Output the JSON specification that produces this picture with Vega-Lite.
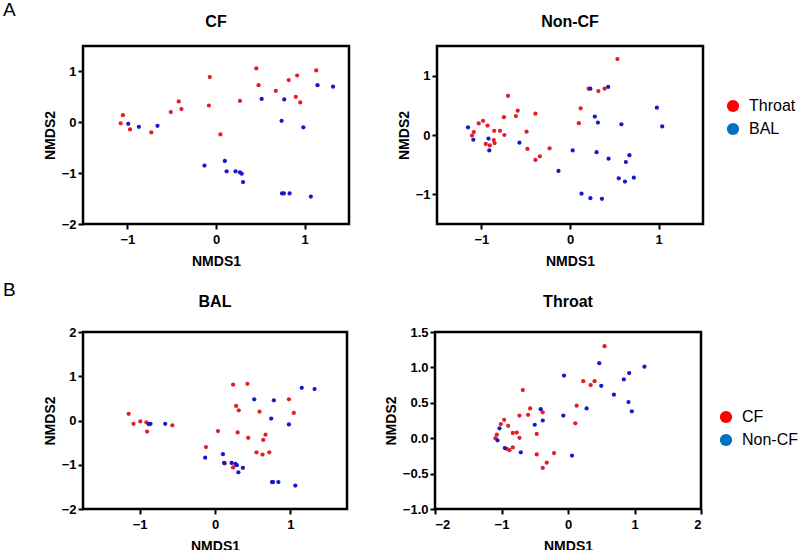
{
  "$schema": "https://vega.github.io/schema/vega-lite/v6.json",
  "background": "white",
  "padding": {"left": 2, "top": 0, "right": 0, "bottom": 0},
  "datasets": {
    "cf": [
      {"group": "Throat", "NMDS1": -1.075, "NMDS2": -0.02},
      {"group": "Throat", "NMDS1": -1.05, "NMDS2": 0.14},
      {"group": "Throat", "NMDS1": -0.97, "NMDS2": -0.14},
      {"group": "Throat", "NMDS1": -0.73, "NMDS2": -0.2},
      {"group": "Throat", "NMDS1": -0.51, "NMDS2": 0.2},
      {"group": "Throat", "NMDS1": -0.42, "NMDS2": 0.41},
      {"group": "Throat", "NMDS1": -0.39, "NMDS2": 0.26},
      {"group": "Throat", "NMDS1": -0.07, "NMDS2": 0.89},
      {"group": "Throat", "NMDS1": -0.08, "NMDS2": 0.33},
      {"group": "Throat", "NMDS1": 0.05, "NMDS2": -0.24},
      {"group": "Throat", "NMDS1": 0.27, "NMDS2": 0.42},
      {"group": "Throat", "NMDS1": 0.455, "NMDS2": 1.06},
      {"group": "Throat", "NMDS1": 0.48, "NMDS2": 0.73},
      {"group": "Throat", "NMDS1": 0.675, "NMDS2": 0.62},
      {"group": "Throat", "NMDS1": 0.82, "NMDS2": 0.83},
      {"group": "Throat", "NMDS1": 0.915, "NMDS2": 0.92},
      {"group": "Throat", "NMDS1": 0.9, "NMDS2": 0.5},
      {"group": "Throat", "NMDS1": 0.95, "NMDS2": 0.39},
      {"group": "Throat", "NMDS1": 1.13, "NMDS2": 1.02},
      {"group": "BAL", "NMDS1": -0.99, "NMDS2": -0.03},
      {"group": "BAL", "NMDS1": -0.87, "NMDS2": -0.09},
      {"group": "BAL", "NMDS1": -0.66, "NMDS2": -0.07},
      {"group": "BAL", "NMDS1": -0.13, "NMDS2": -0.85},
      {"group": "BAL", "NMDS1": 0.515, "NMDS2": 0.46},
      {"group": "BAL", "NMDS1": 0.77, "NMDS2": 0.45},
      {"group": "BAL", "NMDS1": 0.74, "NMDS2": 0.03},
      {"group": "BAL", "NMDS1": 0.985, "NMDS2": -0.1},
      {"group": "BAL", "NMDS1": 1.145, "NMDS2": 0.73},
      {"group": "BAL", "NMDS1": 1.32, "NMDS2": 0.7},
      {"group": "BAL", "NMDS1": 0.1, "NMDS2": -0.76},
      {"group": "BAL", "NMDS1": 0.12, "NMDS2": -0.965},
      {"group": "BAL", "NMDS1": 0.22, "NMDS2": -0.965},
      {"group": "BAL", "NMDS1": 0.27, "NMDS2": -0.985},
      {"group": "BAL", "NMDS1": 0.29, "NMDS2": -1.01},
      {"group": "BAL", "NMDS1": 0.305, "NMDS2": -1.175},
      {"group": "BAL", "NMDS1": 0.745, "NMDS2": -1.4},
      {"group": "BAL", "NMDS1": 0.765, "NMDS2": -1.4},
      {"group": "BAL", "NMDS1": 0.83, "NMDS2": -1.4},
      {"group": "BAL", "NMDS1": 1.07, "NMDS2": -1.46}
    ],
    "noncf": [
      {"group": "Throat", "NMDS1": -1.105, "NMDS2": -0.01},
      {"group": "Throat", "NMDS1": -1.085, "NMDS2": 0.05},
      {"group": "Throat", "NMDS1": -1.03, "NMDS2": 0.195},
      {"group": "Throat", "NMDS1": -0.98, "NMDS2": 0.24},
      {"group": "Throat", "NMDS1": -0.93, "NMDS2": 0.16},
      {"group": "Throat", "NMDS1": -0.95, "NMDS2": -0.15},
      {"group": "Throat", "NMDS1": -0.905, "NMDS2": -0.175},
      {"group": "Throat", "NMDS1": -0.86, "NMDS2": -0.085},
      {"group": "Throat", "NMDS1": -0.85, "NMDS2": -0.135},
      {"group": "Throat", "NMDS1": -0.855, "NMDS2": 0.07},
      {"group": "Throat", "NMDS1": -0.79, "NMDS2": 0.07},
      {"group": "Throat", "NMDS1": -0.74, "NMDS2": 0.0},
      {"group": "Throat", "NMDS1": -0.745, "NMDS2": 0.3},
      {"group": "Throat", "NMDS1": -0.7, "NMDS2": 0.66},
      {"group": "Throat", "NMDS1": -0.61, "NMDS2": 0.32},
      {"group": "Throat", "NMDS1": -0.59, "NMDS2": 0.41},
      {"group": "Throat", "NMDS1": -0.49, "NMDS2": 0.055},
      {"group": "Throat", "NMDS1": -0.48, "NMDS2": -0.235},
      {"group": "Throat", "NMDS1": -0.39, "NMDS2": 0.36},
      {"group": "Throat", "NMDS1": -0.39, "NMDS2": -0.42},
      {"group": "Throat", "NMDS1": -0.34, "NMDS2": -0.36},
      {"group": "Throat", "NMDS1": -0.23, "NMDS2": -0.225},
      {"group": "Throat", "NMDS1": 0.535, "NMDS2": 1.28},
      {"group": "Throat", "NMDS1": 0.21, "NMDS2": 0.78},
      {"group": "Throat", "NMDS1": 0.32, "NMDS2": 0.74},
      {"group": "Throat", "NMDS1": 0.39, "NMDS2": 0.78},
      {"group": "Throat", "NMDS1": 0.12, "NMDS2": 0.45},
      {"group": "Throat", "NMDS1": 0.1, "NMDS2": 0.2},
      {"group": "BAL", "NMDS1": -1.15, "NMDS2": 0.13},
      {"group": "BAL", "NMDS1": -1.09, "NMDS2": -0.08},
      {"group": "BAL", "NMDS1": -0.92, "NMDS2": -0.06},
      {"group": "BAL", "NMDS1": -0.91, "NMDS2": -0.26},
      {"group": "BAL", "NMDS1": -0.57, "NMDS2": -0.13},
      {"group": "BAL", "NMDS1": -0.13, "NMDS2": -0.605},
      {"group": "BAL", "NMDS1": 0.03, "NMDS2": -0.26},
      {"group": "BAL", "NMDS1": 0.23, "NMDS2": 0.78},
      {"group": "BAL", "NMDS1": 0.43, "NMDS2": 0.81},
      {"group": "BAL", "NMDS1": 0.28, "NMDS2": 0.31},
      {"group": "BAL", "NMDS1": 0.315, "NMDS2": 0.21},
      {"group": "BAL", "NMDS1": 0.58, "NMDS2": 0.18},
      {"group": "BAL", "NMDS1": 0.98, "NMDS2": 0.46},
      {"group": "BAL", "NMDS1": 1.04, "NMDS2": 0.145},
      {"group": "BAL", "NMDS1": 0.3, "NMDS2": -0.29},
      {"group": "BAL", "NMDS1": 0.435, "NMDS2": -0.4},
      {"group": "BAL", "NMDS1": 0.67, "NMDS2": -0.34},
      {"group": "BAL", "NMDS1": 0.63, "NMDS2": -0.455},
      {"group": "BAL", "NMDS1": 0.55, "NMDS2": -0.73},
      {"group": "BAL", "NMDS1": 0.62, "NMDS2": -0.785},
      {"group": "BAL", "NMDS1": 0.72, "NMDS2": -0.72},
      {"group": "BAL", "NMDS1": 0.13, "NMDS2": -0.99},
      {"group": "BAL", "NMDS1": 0.23, "NMDS2": -1.065},
      {"group": "BAL", "NMDS1": 0.36, "NMDS2": -1.075}
    ],
    "bal": [
      {"group": "CF", "NMDS1": -1.145, "NMDS2": 0.15},
      {"group": "CF", "NMDS1": -1.08, "NMDS2": -0.075},
      {"group": "CF", "NMDS1": -0.99, "NMDS2": -0.02},
      {"group": "CF", "NMDS1": -0.91, "NMDS2": -0.04},
      {"group": "CF", "NMDS1": -0.9, "NMDS2": -0.25},
      {"group": "CF", "NMDS1": -0.565, "NMDS2": -0.11},
      {"group": "CF", "NMDS1": -0.12, "NMDS2": -0.6},
      {"group": "CF", "NMDS1": 0.04, "NMDS2": -0.24},
      {"group": "CF", "NMDS1": 0.24, "NMDS2": 0.81},
      {"group": "CF", "NMDS1": 0.43, "NMDS2": 0.83},
      {"group": "CF", "NMDS1": 0.28, "NMDS2": 0.33},
      {"group": "CF", "NMDS1": 0.315, "NMDS2": 0.23},
      {"group": "CF", "NMDS1": 0.59, "NMDS2": 0.2},
      {"group": "CF", "NMDS1": 0.98, "NMDS2": 0.48},
      {"group": "CF", "NMDS1": 1.045, "NMDS2": 0.17},
      {"group": "CF", "NMDS1": 0.3, "NMDS2": -0.27},
      {"group": "CF", "NMDS1": 0.44, "NMDS2": -0.39},
      {"group": "CF", "NMDS1": 0.67, "NMDS2": -0.32},
      {"group": "CF", "NMDS1": 0.64, "NMDS2": -0.44},
      {"group": "CF", "NMDS1": 0.55, "NMDS2": -0.72},
      {"group": "CF", "NMDS1": 0.63, "NMDS2": -0.77},
      {"group": "CF", "NMDS1": 0.72, "NMDS2": -0.72},
      {"group": "CF", "NMDS1": 0.13, "NMDS2": -0.97},
      {"group": "CF", "NMDS1": 0.24, "NMDS2": -1.06},
      {"group": "Non-CF", "NMDS1": -0.88, "NMDS2": -0.08},
      {"group": "Non-CF", "NMDS1": -0.855, "NMDS2": -0.075},
      {"group": "Non-CF", "NMDS1": -0.66, "NMDS2": -0.075},
      {"group": "Non-CF", "NMDS1": -0.13, "NMDS2": -0.84},
      {"group": "Non-CF", "NMDS1": 0.52, "NMDS2": 0.48},
      {"group": "Non-CF", "NMDS1": 0.78, "NMDS2": 0.455},
      {"group": "Non-CF", "NMDS1": 0.745, "NMDS2": 0.045},
      {"group": "Non-CF", "NMDS1": 0.98, "NMDS2": -0.09},
      {"group": "Non-CF", "NMDS1": 1.15, "NMDS2": 0.74},
      {"group": "Non-CF", "NMDS1": 1.32, "NMDS2": 0.71},
      {"group": "Non-CF", "NMDS1": 0.105, "NMDS2": -0.76},
      {"group": "Non-CF", "NMDS1": 0.12, "NMDS2": -0.96},
      {"group": "Non-CF", "NMDS1": 0.22, "NMDS2": -0.96},
      {"group": "Non-CF", "NMDS1": 0.27, "NMDS2": -0.98},
      {"group": "Non-CF", "NMDS1": 0.29, "NMDS2": -1.01},
      {"group": "Non-CF", "NMDS1": 0.37, "NMDS2": -1.07},
      {"group": "Non-CF", "NMDS1": 0.31, "NMDS2": -1.17},
      {"group": "Non-CF", "NMDS1": 0.755, "NMDS2": -1.39},
      {"group": "Non-CF", "NMDS1": 0.77, "NMDS2": -1.39},
      {"group": "Non-CF", "NMDS1": 0.84, "NMDS2": -1.39},
      {"group": "Non-CF", "NMDS1": 1.065, "NMDS2": -1.47}
    ],
    "throat": [
      {"group": "CF", "NMDS1": -1.09, "NMDS2": 0.0},
      {"group": "CF", "NMDS1": -1.07, "NMDS2": 0.05},
      {"group": "CF", "NMDS1": -1.01, "NMDS2": 0.2},
      {"group": "CF", "NMDS1": -0.96, "NMDS2": 0.26},
      {"group": "CF", "NMDS1": -0.9, "NMDS2": 0.175},
      {"group": "CF", "NMDS1": -0.83, "NMDS2": 0.075},
      {"group": "CF", "NMDS1": -0.77, "NMDS2": 0.08},
      {"group": "CF", "NMDS1": -0.73, "NMDS2": 0.005},
      {"group": "CF", "NMDS1": -0.92, "NMDS2": -0.15},
      {"group": "CF", "NMDS1": -0.88, "NMDS2": -0.17},
      {"group": "CF", "NMDS1": -0.83, "NMDS2": -0.13},
      {"group": "CF", "NMDS1": -0.73, "NMDS2": 0.32},
      {"group": "CF", "NMDS1": -0.68, "NMDS2": 0.68},
      {"group": "CF", "NMDS1": -0.6, "NMDS2": 0.33},
      {"group": "CF", "NMDS1": -0.57, "NMDS2": 0.42},
      {"group": "CF", "NMDS1": -0.47, "NMDS2": 0.06},
      {"group": "CF", "NMDS1": -0.47, "NMDS2": -0.23},
      {"group": "CF", "NMDS1": -0.38, "NMDS2": 0.365},
      {"group": "CF", "NMDS1": -0.38, "NMDS2": -0.42},
      {"group": "CF", "NMDS1": -0.32, "NMDS2": -0.345},
      {"group": "CF", "NMDS1": -0.21, "NMDS2": -0.21},
      {"group": "CF", "NMDS1": 0.55, "NMDS2": 1.3},
      {"group": "CF", "NMDS1": 0.23, "NMDS2": 0.805},
      {"group": "CF", "NMDS1": 0.34, "NMDS2": 0.75},
      {"group": "CF", "NMDS1": 0.4, "NMDS2": 0.805},
      {"group": "CF", "NMDS1": 0.13, "NMDS2": 0.46},
      {"group": "CF", "NMDS1": 0.11, "NMDS2": 0.21},
      {"group": "Non-CF", "NMDS1": -1.03, "NMDS2": 0.14},
      {"group": "Non-CF", "NMDS1": -1.06, "NMDS2": -0.03},
      {"group": "Non-CF", "NMDS1": -0.95, "NMDS2": -0.14},
      {"group": "Non-CF", "NMDS1": -0.71, "NMDS2": -0.2},
      {"group": "Non-CF", "NMDS1": -0.5, "NMDS2": 0.19},
      {"group": "Non-CF", "NMDS1": -0.41, "NMDS2": 0.41},
      {"group": "Non-CF", "NMDS1": -0.38, "NMDS2": 0.25},
      {"group": "Non-CF", "NMDS1": -0.06, "NMDS2": 0.885},
      {"group": "Non-CF", "NMDS1": -0.07, "NMDS2": 0.32},
      {"group": "Non-CF", "NMDS1": 0.06, "NMDS2": -0.245},
      {"group": "Non-CF", "NMDS1": 0.47, "NMDS2": 1.06},
      {"group": "Non-CF", "NMDS1": 0.5, "NMDS2": 0.74},
      {"group": "Non-CF", "NMDS1": 0.28, "NMDS2": 0.42},
      {"group": "Non-CF", "NMDS1": 0.69, "NMDS2": 0.615},
      {"group": "Non-CF", "NMDS1": 0.84, "NMDS2": 0.83},
      {"group": "Non-CF", "NMDS1": 0.92, "NMDS2": 0.92},
      {"group": "Non-CF", "NMDS1": 1.15, "NMDS2": 1.01},
      {"group": "Non-CF", "NMDS1": 0.91, "NMDS2": 0.51},
      {"group": "Non-CF", "NMDS1": 0.96, "NMDS2": 0.38}
    ]
  },
  "config": {
    "font": "Liberation Sans",
    "view": {"stroke": "black", "strokeWidth": 2.5},
    "axis": {
      "grid": false, "domain": false,
      "tickColor": "black", "tickWidth": 2, "tickSize": 5,
      "labelFont": "Liberation Sans", "labelFontWeight": "bold", "labelFontSize": 13, "labelColor": "black", "labelPadding": 2,
      "titleFont": "Liberation Sans", "titleFontWeight": "bold", "titleFontSize": 14, "titleColor": "black", "titlePadding": 4
    },
    "axisX": {"labelPadding": 4, "titlePadding": 8},
    "title": {"font": "Liberation Sans", "fontSize": 16, "fontWeight": "bold", "color": "black", "offset": 16},
    "legend": {
      "symbolType": "circle", "symbolSize": 150, "symbolStrokeWidth": 0, "symbolOpacity": 1,
      "labelFont": "Liberation Sans", "labelFontSize": 16, "labelColor": "black",
      "labelOffset": 8, "rowPadding": 7
    }
  },
  "resolve": {"scale": {"color": "independent", "fill": "independent"}, "legend": {"color": "independent", "fill": "independent"}},
  "spacing": 10,
  "vconcat": [
    {
      "title": {"text": "A", "anchor": "start", "fontSize": 19, "fontWeight": "normal", "dx": -39, "offset": -7},
      "spacing": 44,
      "resolve": {"scale": {"color": "independent", "fill": "independent"}, "legend": {"color": "independent", "fill": "independent"}},
      "hconcat": [
        {
          "data": {"name": "cf"},
          "width": 266, "height": 178,
          "title": "CF",
          "mark": {"type": "point", "filled": true, "size": 18, "opacity": 1},
          "encoding": {
            "x": {"field": "NMDS1", "type": "quantitative", "scale": {"domain": [-1.5, 1.5], "nice": false, "zero": false}, "axis": {"values": [-1, 0, 1]}},
            "y": {"field": "NMDS2", "type": "quantitative", "scale": {"domain": [-2, 1.5], "nice": false, "zero": false}, "axis": {"values": [-2, -1, 0, 1]}},
            "color": {"field": "group", "type": "nominal", "scale": {"domain": ["BAL", "Throat"], "range": ["#1818c8", "#e41e26"]}, "legend": null}
          }
        },
        {
          "data": {"name": "noncf"},
          "width": 266, "height": 178,
          "title": "Non-CF",
          "encoding": {
            "x": {"field": "NMDS1", "type": "quantitative", "scale": {"domain": [-1.5, 1.5], "nice": false, "zero": false}, "axis": {"values": [-1, 0, 1]}},
            "y": {"field": "NMDS2", "type": "quantitative", "scale": {"domain": [-1.5, 1.5], "nice": false, "zero": false}, "axis": {"values": [-1, 0, 1]}}
          },
          "layer": [
            {
              "mark": {"type": "point", "filled": true, "size": 18, "opacity": 1},
              "encoding": {
                "color": {"field": "group", "type": "nominal", "scale": {"domain": ["BAL", "Throat"], "range": ["#1818c8", "#e41e26"]}, "legend": null}
              }
            },
            {
              "mark": {"type": "point", "filled": true, "size": 18, "opacity": 0},
              "encoding": {
                "fill": {"field": "group", "type": "nominal", "scale": {"domain": ["Throat", "BAL"], "range": ["#ff0000", "#0070c0"]},
                  "legend": {"title": null, "orient": "none", "legendX": 288, "legendY": 52, "symbolOpacity": 1}}
              }
            }
          ]
        }
      ]
    },
    {
      "title": {"text": "B", "anchor": "start", "fontSize": 19, "fontWeight": "normal", "dx": -39, "offset": -7},
      "spacing": 34,
      "resolve": {"scale": {"color": "independent", "fill": "independent"}, "legend": {"color": "independent", "fill": "independent"}},
      "hconcat": [
        {
          "data": {"name": "bal"},
          "width": 264, "height": 177,
          "title": "BAL",
          "mark": {"type": "point", "filled": true, "size": 18, "opacity": 1},
          "encoding": {
            "x": {"field": "NMDS1", "type": "quantitative", "scale": {"domain": [-1.75, 1.75], "nice": false, "zero": false}, "axis": {"values": [-1, 0, 1]}},
            "y": {"field": "NMDS2", "type": "quantitative", "scale": {"domain": [-2, 2], "nice": false, "zero": false}, "axis": {"values": [-2, -1, 0, 1, 2]}},
            "color": {"field": "group", "type": "nominal", "scale": {"domain": ["Non-CF", "CF"], "range": ["#1818c8", "#e41e26"]}, "legend": null}
          }
        },
        {
          "data": {"name": "throat"},
          "width": 266, "height": 177,
          "title": "Throat",
          "encoding": {
            "x": {"field": "NMDS1", "type": "quantitative", "scale": {"domain": [-2, 2], "nice": false, "zero": false}, "axis": {"values": [-2, -1, 0, 1, 2]}},
            "y": {"field": "NMDS2", "type": "quantitative", "scale": {"domain": [-1, 1.5], "nice": false, "zero": false}, "axis": {"values": [-1, -0.5, 0, 0.5, 1, 1.5], "format": ".1f"}}
          },
          "layer": [
            {
              "mark": {"type": "point", "filled": true, "size": 18, "opacity": 1},
              "encoding": {
                "color": {"field": "group", "type": "nominal", "scale": {"domain": ["Non-CF", "CF"], "range": ["#1818c8", "#e41e26"]}, "legend": null}
              }
            },
            {
              "mark": {"type": "point", "filled": true, "size": 18, "opacity": 0},
              "encoding": {
                "fill": {"field": "group", "type": "nominal", "scale": {"domain": ["CF", "Non-CF"], "range": ["#ff0000", "#0070c0"]},
                  "legend": {"title": null, "orient": "none", "legendX": 283, "legendY": 77, "symbolOpacity": 1}}
              }
            }
          ]
        }
      ]
    }
  ]
}
